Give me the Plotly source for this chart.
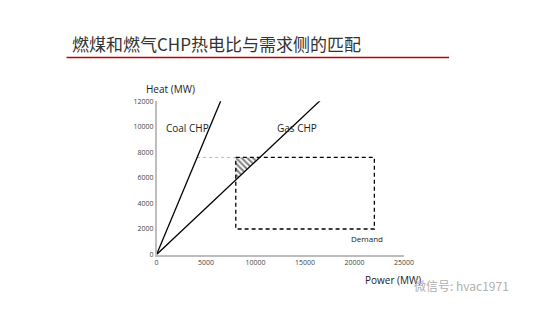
import plotly.graph_objects as go

# Data
power_ticks = [0, 5000, 10000, 15000, 20000, 25000]
power_labels = ["0", "5000", "10000", "15000", "20000", "25000"]
heat_ticks = [0, 2000, 4000, 6000, 8000, 10000, 12000]
heat_labels = ["0", "2000", "4000", "6000", "8000", "10000", "12000"]
coal_x = [0, 6500]
coal_y = [0, 12050]
gas_x = [0, 16600]
gas_y = [0, 12100]
demand_x = [8000, 22000, 22000, 8000, 8000]
demand_y = [7600, 7600, 2000, 2000, 7600]
hatch_x = [8000, 8000, 10400, 8000]
hatch_y = [7600, 5840, 7600, 7600]
pink_x = [4100, 8000]
pink_y = [7600, 7600]

fig = go.Figure()
fig.add_trace(go.Scatter(x=hatch_x, y=hatch_y, mode="lines", fill="toself",
                         line=dict(width=0, color="black"), fillcolor="white",
                         fillpattern=dict(shape="\\", fgcolor="black", bgcolor="white", size=4, solidity=0.5),
                         showlegend=False, hoverinfo="skip"))
fig.add_trace(go.Scatter(x=pink_x, y=pink_y, mode="lines",
                         line=dict(color="#e8a0a0", width=1, dash="dot"), showlegend=False))
fig.add_trace(go.Scatter(x=demand_x, y=demand_y, mode="lines",
                         line=dict(color="black", width=1.3, dash="4px,3px"), showlegend=False))
fig.add_trace(go.Scatter(x=coal_x, y=coal_y, mode="lines",
                         line=dict(color="black", width=1.3), showlegend=False))
fig.add_trace(go.Scatter(x=gas_x, y=gas_y, mode="lines",
                         line=dict(color="black", width=1.3), showlegend=False))

fig.update_layout(
    width=553, height=311, margin=dict(l=0, r=0, t=0, b=0),
    paper_bgcolor="white", plot_bgcolor="white",
    font=dict(family="Open Sans, Noto Sans, sans-serif", color="#333"),
    xaxis=dict(domain=[158/553, 411/553], range=[0, 25000], tickvals=power_ticks, ticktext=power_labels,
               showgrid=False, zeroline=False, showline=True, linecolor="#bdbdbd", linewidth=1.5,
               ticks="", tickfont=dict(size=7, color="#444"), fixedrange=True),
    yaxis=dict(domain=[1-257/311, 1-99/311], range=[0, 12000], tickvals=heat_ticks, ticktext=heat_labels,
               showgrid=False, zeroline=False, showline=True, linecolor="#bdbdbd", linewidth=1.5,
               ticks="", tickfont=dict(size=7, color="#444"), fixedrange=True),
)

ann = [
    dict(text="燃煤和燃气CHP热电比与需求侧的匹配", x=69/553, y=1-40/311, xanchor="left", yanchor="middle",
         font=dict(family="Noto Sans CJK SC", size=17, color="#333")),
    dict(text="Heat (MW)", x=172/553, y=1-87/311, xanchor="center", yanchor="middle",
         font=dict(size=10, color="#222")),
    dict(text="Power (MW)", x=400/553, y=1-283/311, xanchor="center", yanchor="middle",
         font=dict(size=10, color="#222")),
    dict(text="Coal CHP", x=190/553, y=1-127/311, xanchor="center", yanchor="middle",
         font=dict(size=10, color="#222")),
    dict(text="Gas CHP", x=302/553, y=1-127/311, xanchor="center", yanchor="middle",
         font=dict(size=10, color="#222")),
    dict(text="Demand", x=373/553, y=1-240/311, xanchor="center", yanchor="middle",
         font=dict(size=8, color="#222")),
    dict(text="微信号: hvac1971", x=470/553, y=1-289/311, xanchor="center", yanchor="middle",
         font=dict(family="Noto Sans CJK SC", size=12, color="#b0b0b0")),
]
for a in ann:
    a.update(xref="paper", yref="paper", showarrow=False)
fig.update_layout(annotations=ann)

fig.add_shape(type="line", xref="paper", yref="paper", x0=66/553, x1=457/553,
              y0=1-54/311, y1=1-54/311, line=dict(color="#c00000", width=1.5))

fig.write_html("out.html")
